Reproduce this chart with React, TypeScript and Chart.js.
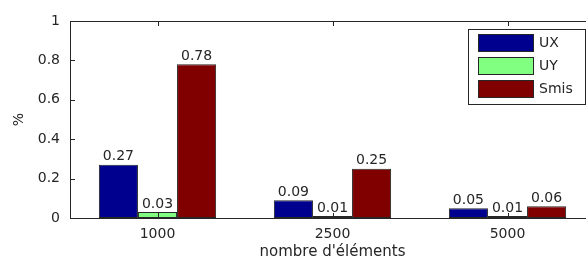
import React, { useEffect, useRef } from "react";
import { Chart, registerables } from "chart.js";

Chart.register(...registerables);

const categories = ["1000", "2500", "5000"];
const seriesNames = ["UX", "UY", "Smis"];
const uxValues = [0.27, 0.09, 0.05];
const uyValues = [0.03, 0.01, 0.01];
const smisValues = [0.78, 0.25, 0.06];
const seriesColors = ["#00008F", "#80FF80", "#800000"];
const yTicks = [0, 0.2, 0.4, 0.6, 0.8, 1];

const FONT = "'DejaVu Sans', sans-serif";
const INK = "#262626";

const framePlugin = {
  id: "frame",
  afterDatasetsDraw(chart: any) {
    const { ctx, chartArea } = chart;
    const { left, right, top, bottom } = chartArea;
    const xs = chart.scales.x;
    const ys = chart.scales.y;
    ctx.save();
    // data labels
    ctx.font = `14px ${FONT}`;
    ctx.fillStyle = INK;
    ctx.textAlign = "center";
    ctx.textBaseline = "bottom";
    chart.data.datasets.forEach((ds: any, di: number) => {
      const meta = chart.getDatasetMeta(di);
      meta.data.forEach((bar: any, i: number) => {
        ctx.fillText(Number(ds.data[i]).toFixed(2), bar.x, bar.y - 1);
      });
    });
    // frame
    ctx.strokeStyle = INK;
    ctx.lineWidth = 1;
    ctx.beginPath();
    ctx.rect(Math.round(left) + 0.5, Math.round(top) + 0.5, Math.round(right - left), Math.round(bottom - top));
    ctx.stroke();
    // inward ticks
    ctx.beginPath();
    yTicks.forEach((v) => {
      const y = Math.round(ys.getPixelForValue(v)) + 0.5;
      ctx.moveTo(left, y);
      ctx.lineTo(left + 5, y);
    });
    categories.forEach((_, i) => {
      const x = Math.round(xs.getPixelForValue(i)) + 0.5;
      ctx.moveTo(x, top);
      ctx.lineTo(x, top + 5);
      ctx.moveTo(x, bottom);
      ctx.lineTo(x, bottom - 5);
    });
    ctx.stroke();
    // legend
    const bx = 468.5, by = 29.5, bw = 117, bh = 75;
    ctx.fillStyle = "#ffffff";
    ctx.fillRect(bx, by, bw, bh);
    ctx.strokeRect(bx, by, bw, bh);
    ctx.textAlign = "left";
    ctx.textBaseline = "middle";
    const tops = [34, 57, 80];
    seriesNames.forEach((name, i) => {
      ctx.fillStyle = seriesColors[i];
      ctx.fillRect(478, tops[i], 55, 17);
      ctx.strokeStyle = INK;
      ctx.strokeRect(478.5, tops[i] + 0.5, 55, 17);
      ctx.fillStyle = INK;
      ctx.fillText(name, 539, tops[i] + 9);
    });
    ctx.restore();
  },
};

export default function App() {
  const ref = useRef<HTMLCanvasElement>(null);
  useEffect(() => {
    if (!ref.current) return;
    const chart = new Chart(ref.current, {
      type: "bar",
      data: {
        labels: categories,
        datasets: [uxValues, uyValues, smisValues].map((d, i) => ({
          label: seriesNames[i],
          data: d,
          backgroundColor: seriesColors[i],
          borderColor: INK,
          borderWidth: 1,
          borderSkipped: false,
          categoryPercentage: 0.67,
          barPercentage: 1,
        })),
      },
      options: {
        responsive: false,
        animation: false,
        layout: { padding: { top: 21, right: 15, left: 0, bottom: 0 } },
        plugins: { legend: { display: false }, tooltip: { enabled: false } },
        scales: {
          x: {
            grid: { display: false, drawTicks: false },
            border: { display: false },
            ticks: { padding: 8, color: INK, font: { family: FONT, size: 14 } },
            title: {
              display: true,
              text: "nombre d'éléments",
              color: INK,
              font: { family: FONT, size: 15 },
              padding: { top: 0, bottom: 1 },
            },
            afterFit: (s: any) => { s.height = 44; },
          },
          y: {
            min: 0,
            max: 1,
            grid: { display: false, drawTicks: false },
            border: { display: false },
            ticks: {
              stepSize: 0.2,
              padding: 10,
              color: INK,
              font: { family: FONT, size: 14 },
              callback: (v: any) => String(Number(Number(v).toFixed(1))),
            },
            title: {
              display: true,
              text: "%",
              color: INK,
              font: { family: FONT, size: 14 },
              padding: { top: 11, bottom: 0 },
            },
            afterFit: (s: any) => { s.width = 70; },
          },
        },
      },
      plugins: [framePlugin],
    });
    return () => chart.destroy();
  }, []);
  return (
    <div style={{ position: "fixed", left: 0, top: 0, width: 586, height: 262, overflow: "hidden", background: "#fff" }}>
      <canvas ref={ref} width={610} height={262} style={{ display: "block" }} />
    </div>
  );
}
